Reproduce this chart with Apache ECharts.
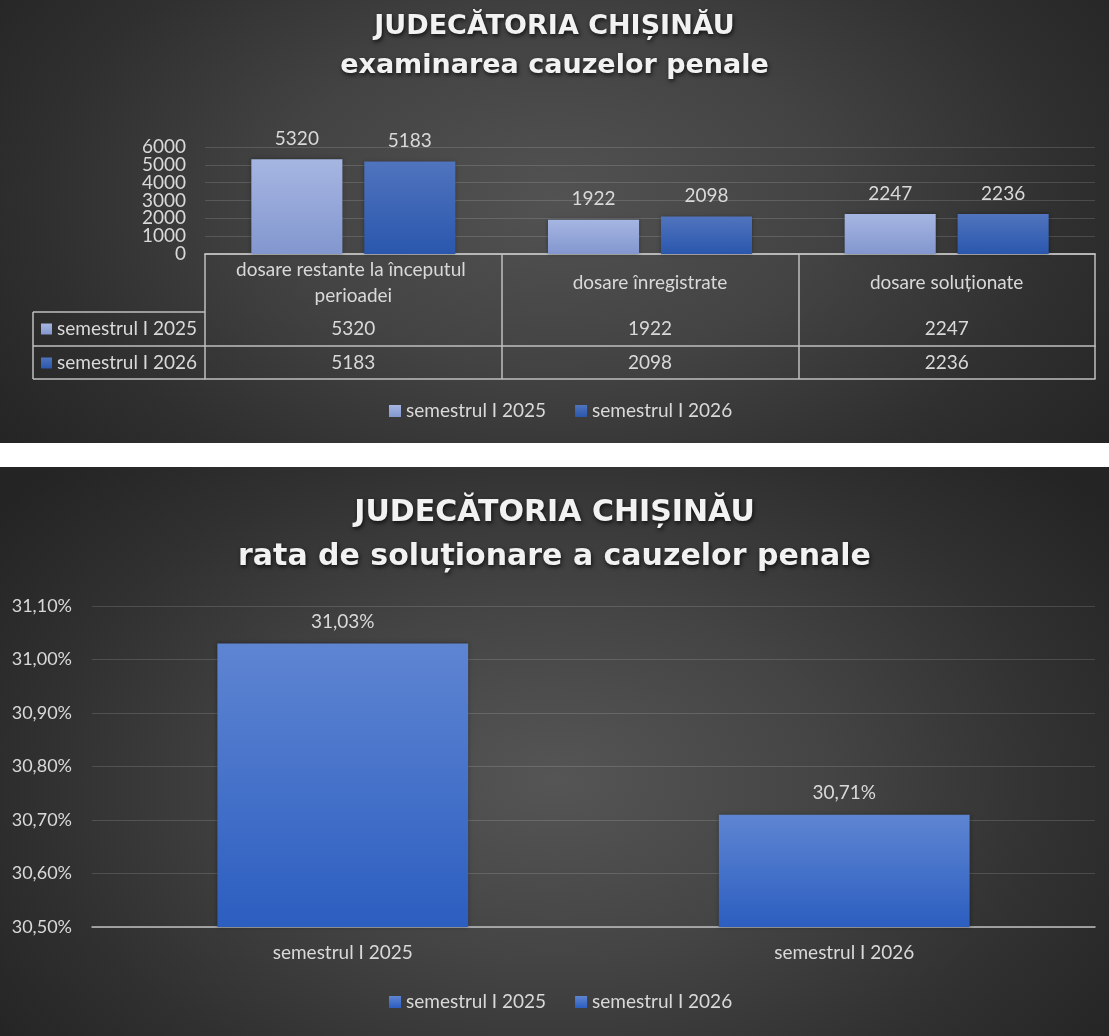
<!DOCTYPE html>
<html lang="ro">
<head>
    <meta charset="UTF-8">
    <title>Judecătoria Chișinău - cauze penale</title>
    <script src="https://cdn.jsdelivr.net/npm/echarts@6/dist/echarts.min.js"></script>
    <style>
        body {
            margin: 0;
            background: #ffffff;
            width: 1109px;
            height: 1036px;
            overflow: hidden;
        }
        #chartTop {
            position: absolute;
            left: 0;
            top: 0;
            width: 1109px;
            height: 443px;
            background: radial-gradient(ellipse 62% 95% at 50% 45%, #525252 0%, #434343 40%, #2f2f2f 75%, #242424 100%);
        }
        #chartBottom {
            position: absolute;
            left: 0;
            top: 467px;
            width: 1109px;
            height: 569px;
            background: radial-gradient(ellipse 62% 80% at 50% 55%, #555555 0%, #444444 40%, #303030 75%, #242424 100%);
        }
    </style>
</head>
<body>
    <div id="chartTop"></div>
    <div id="chartBottom"></div>

    <script>
        // date - examinarea cauzelor penale
        const categories = ['dosare restante la începutul perioadei', 'dosare înregistrate', 'dosare soluționate'];
        const seriesNames = ['semestrul I 2025', 'semestrul I 2026'];
        const values2025 = [5320, 1922, 2247];
        const values2026 = [5183, 2098, 2236];
        const countTicks = [0, 1000, 2000, 3000, 4000, 5000, 6000];

        // date - rata de solutionare (%)
        const rateCategories = ['semestrul I 2025', 'semestrul I 2026'];
        const rateValues = [31.03, 30.71];
        const rateTicks = [30.5, 30.6, 30.7, 30.8, 30.9, 31.0, 31.1];

        const textColor = '#d9d9d9';
        const lineColor = '#bfbfbf';
        const gridColor = 'rgba(255,255,255,0.14)';

        function grad(top, bottom) {
            return new echarts.graphic.LinearGradient(0, 0, 0, 1, [
                { offset: 0, color: top },
                { offset: 1, color: bottom }
            ]);
        }

        function fmtPct(v) {
            return Number(v).toFixed(2).replace('.', ',') + '%';
        }

        const titleStyle = {
            fontFamily: 'DejaVu Sans',
            fontWeight: 'bold',
            color: '#f2f2f2',
            textShadowColor: 'rgba(0,0,0,0.75)',
            textShadowBlur: 4,
            textShadowOffsetX: 1,
            textShadowOffsetY: 2
        };

        const labelStyle = { color: textColor, fontFamily: 'Lato', fontSize: 19 };

        // ---------- grafic 1 ----------
        const topGridLeft = 205;
        const tableLeft = 33;
        const rowOffsets = [58, 92, 125];   // liniile tabelului sub axa
        const axisY = 254;

        const tableAxes = [
            { offset: rowOffsets[0], values: values2025 },
            { offset: rowOffsets[1], values: values2026 },
            { offset: rowOffsets[2], values: null }
        ].map(r => ({
            type: 'category',
            data: categories,
            position: 'bottom',
            offset: r.offset,
            axisLine: { lineStyle: { color: lineColor, width: 1.5 } },
            axisTick: { show: false },
            axisLabel: {
                show: !!r.values,
                interval: 0,
                ...labelStyle,
                verticalAlign: 'middle',
                margin: 17,
                formatter: (v, i) => r.values ? String(r.values[i]) : ''
            }
        }));

        const leftCol = [];
        rowOffsets.forEach(o => {
            leftCol.push({
                type: 'line',
                shape: { x1: tableLeft, y1: axisY + o, x2: topGridLeft, y2: axisY + o },
                style: { stroke: lineColor, lineWidth: 1.5 }
            });
        });
        leftCol.push({
            type: 'line',
            shape: { x1: tableLeft, y1: axisY + rowOffsets[0], x2: tableLeft, y2: axisY + rowOffsets[2] },
            style: { stroke: lineColor, lineWidth: 1.5 }
        });

        // etichetele axei Y sunt foarte apropiate: le impart pe doua axe suprapuse
        // ca ECharts sa nu le ascunda pe cele care se ating
        const countStep = countTicks[1] - countTicks[0];
        const countAxes = [0, 1].map(parity => ({
            type: 'value',
            position: 'left',
            min: countTicks[0],
            max: countTicks[countTicks.length - 1],
            interval: countStep,
            axisLine: { show: false },
            axisTick: { show: false },
            axisLabel: {
                ...labelStyle,
                margin: 19,
                formatter: v => (Math.round(v / countStep) % 2 === parity ? String(v) : '')
            },
            splitLine: { show: parity === 0, lineStyle: { color: gridColor } }
        }));

        const topColors = [grad('#a6b6e2', '#8397cf'), grad('#5074be', '#2a57ad')];

        const chartTop = echarts.init(document.getElementById('chartTop'));
        chartTop.setOption({
            textStyle: { fontFamily: 'Lato' },
            title: {
                text: 'JUDECĂTORIA CHIȘINĂU\nexaminarea cauzelor penale',
                left: 'center',
                top: 2,
                textStyle: { ...titleStyle, fontSize: 27, lineHeight: 39 }
            },
            legend: [
                {
                    data: seriesNames,
                    left: 389,
                    top: 401,
                    padding: 0,
                    icon: 'rect',
                    itemWidth: 12,
                    itemHeight: 12,
                    itemGap: 29,
                    textStyle: { ...labelStyle, lineHeight: 20 }
                },
                {
                    data: seriesNames,
                    orient: 'vertical',
                    left: 41,
                    top: 319,
                    padding: 0,
                    icon: 'rect',
                    itemWidth: 11,
                    itemHeight: 11,
                    itemGap: 14,
                    textStyle: { ...labelStyle, lineHeight: 20 }
                }
            ],
            grid: { left: topGridLeft, right: 14, top: 147, bottom: 443 - axisY },
            xAxis: [
                {
                    type: 'category',
                    data: categories,
                    axisLine: { lineStyle: { color: lineColor, width: 1.5 } },
                    axisTick: { show: true, interval: 0, length: rowOffsets[2], lineStyle: { color: lineColor, width: 1.5 } },
                    axisLabel: {
                        interval: 0,
                        ...labelStyle,
                        lineHeight: 26,
                        width: 265,
                        overflow: 'break',
                        verticalAlign: 'middle',
                        margin: 29
                    }
                },
                ...tableAxes
            ],
            yAxis: countAxes,
            graphic: leftCol,
            series: seriesNames.map((name, i) => ({
                name: name,
                type: 'bar',
                yAxisIndex: 0,
                data: i === 0 ? values2025 : values2026,
                barWidth: '30.7%',
                barGap: '24%',
                itemStyle: { color: topColors[i], shadowColor: 'rgba(0,0,0,0.35)', shadowBlur: 4 },
                label: { show: true, position: 'top', distance: 11, ...labelStyle }
            }))
        });

        // ---------- grafic 2 ----------
        const rateColor = grad('#5e85d2', '#2c5ec0');

        const chartBottom = echarts.init(document.getElementById('chartBottom'));
        chartBottom.setOption({
            textStyle: { fontFamily: 'Lato' },
            title: {
                text: 'JUDECĂTORIA CHIȘINĂU\nrata de soluționare a cauzelor penale',
                left: 'center',
                top: 19,
                textStyle: { ...titleStyle, fontSize: 30, lineHeight: 44 }
            },
            legend: {
                data: rateCategories,
                left: 389,
                top: 525,
                padding: 0,
                icon: 'rect',
                itemWidth: 12,
                itemHeight: 12,
                itemGap: 29,
                textStyle: { ...labelStyle, lineHeight: 20 }
            },
            grid: { left: 92, right: 14, top: 139, bottom: 109 },
            xAxis: {
                type: 'category',
                data: rateCategories,
                axisLine: { lineStyle: { color: lineColor, width: 1.5 } },
                axisTick: { show: false },
                axisLabel: { ...labelStyle, margin: 16 }
            },
            yAxis: {
                type: 'value',
                min: rateTicks[0],
                max: rateTicks[rateTicks.length - 1],
                interval: 0.1,
                axisLine: { show: false },
                axisTick: { show: false },
                axisLabel: { ...labelStyle, fontSize: 18, margin: 20, formatter: v => fmtPct(v) },
                splitLine: { lineStyle: { color: gridColor } }
            },
            series: rateCategories.map((name, i) => ({
                name: name,
                type: 'bar',
                barWidth: '50%',
                barGap: '-100%',
                data: rateValues.map((v, j) => (j === i ? v : '-')),
                itemStyle: { color: rateColor, shadowColor: 'rgba(0,0,0,0.35)', shadowBlur: 4 },
                label: {
                    show: true,
                    position: 'top',
                    distance: 12,
                    ...labelStyle,
                    formatter: p => fmtPct(p.value)
                }
            }))
        });
    </script>
</body>
</html>
